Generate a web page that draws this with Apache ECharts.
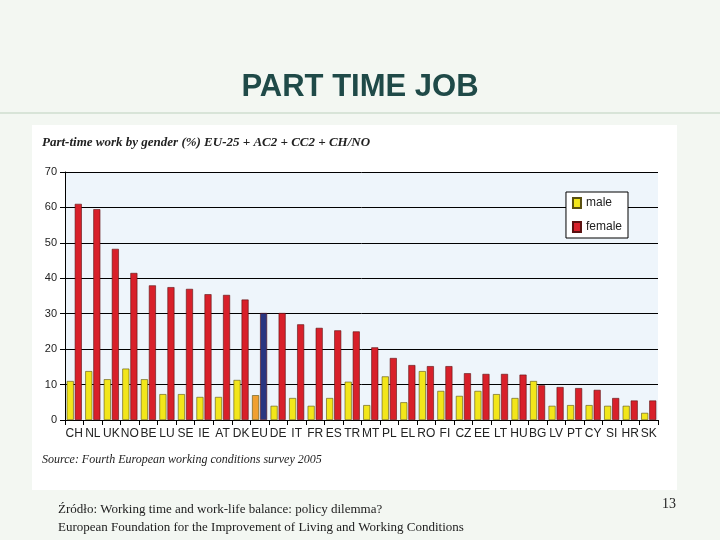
<!DOCTYPE html>
<html>
<head>
<meta charset="utf-8">
<script src="https://cdn.jsdelivr.net/npm/echarts@6/dist/echarts.min.js"></script>
<style>html,body{margin:0;padding:0;background:#fff}#main{width:720px;height:540px}</style>
</head>
<body>
<div id="main"></div>
<script>
var countries = ['CH','NL','UK','NO','BE','LU','SE','IE','AT','DK','EU','DE','IT','FR','ES','TR','MT','PL','EL','RO','FI','CZ','EE','LT','HU','BG','LV','PT','CY','SI','HR','SK'];
var male = [11,13.8,11.5,14.5,11.5,7.3,7.3,6.5,6.5,11.3,7,4,6.2,4,6.2,10.8,4.2,12.3,5,13.8,8.2,6.8,8.2,7.3,6.2,11,4,4.2,4.2,4,4,2];
var female = [61,59.5,48.3,41.5,38,37.5,37,35.5,35.3,34,30.2,30.2,27,26,25.3,25,20.5,17.5,15.5,15.2,15.2,13.2,13,13,12.8,9.8,9.3,9,8.5,6.2,5.5,5.5];

var euIndex = countries.indexOf('EU');
var maleData = male.map(function (v, i) {
    return i === euIndex ? {value: v, itemStyle: {color: '#f0a030'}} : v;
});
var femaleData = female.map(function (v, i) {
    return i === euIndex ? {value: v, itemStyle: {color: '#2a3580'}} : v;
});

var chart = echarts.init(document.getElementById('main'));
var option = {
    backgroundColor: '#f3f7f2',
    animation: false,
    graphic: [
        {type: 'rect', shape: {x: 0, y: 112, width: 720, height: 2}, style: {fill: '#d8e4d8'}},
        {type: 'text', left: 'center', top: 72, style: {text: 'PART TIME JOB', font: 'bold 31px Arial, Liberation Sans', fill: '#1f4a48'}},
        {type: 'rect', shape: {x: 32, y: 125, width: 645, height: 365}, style: {fill: '#ffffff'}, z: -1},
        {type: 'rect', shape: {x: 65, y: 172, width: 593, height: 248}, style: {fill: '#eef5fb'}, z: -1},
        {type: 'text', left: 42, top: 136, style: {text: 'Part-time work by gender (%) EU-25 + AC2 + CC2 + CH/NO', font: 'italic bold 13px Liberation Serif', fill: '#222'}},
        {type: 'text', left: 42, top: 454, style: {text: 'Source: Fourth European working conditions survey 2005', font: 'italic 12px Liberation Serif', fill: '#222'}},
        {type: 'text', left: 58, top: 501, style: {text: 'Źródło: Working time and work-life balance: policy dilemma?\nEuropean Foundation for the Improvement of Living and Working Conditions', font: '13px Liberation Serif', fill: '#222', lineHeight: 18}},
        {type: 'text', left: 662, top: 497, style: {text: '13', font: '14px Liberation Serif', fill: '#222'}}
    ],
    legend: {
        orient: 'vertical',
        right: 92, top: 192,
        icon: 'rect',
        itemWidth: 8, itemHeight: 10, itemGap: 12,
        backgroundColor: '#fff', borderColor: '#000', borderWidth: 1, padding: [5, 6],
        textStyle: {fontSize: 12, color: '#222', fontFamily: 'Liberation Sans'},
        data: ['male', 'female']
    },
    grid: {left: 65, right: 62, top: 172, bottom: 120},
    xAxis: {
        type: 'category',
        data: countries,
        axisLine: {lineStyle: {color: '#000'}},
        axisTick: {show: true, lineStyle: {color: '#000'}},
        axisLabel: {interval: 0, color: '#222', fontSize: 12, fontFamily: 'Liberation Sans Narrow, Liberation Sans', margin: 8}
    },
    yAxis: {
        type: 'value',
        min: 0, max: 70, interval: 10,
        axisLine: {show: true, lineStyle: {color: '#000'}},
        axisTick: {show: true, lineStyle: {color: '#000'}},
        axisLabel: {color: '#222', fontSize: 11, fontFamily: 'Liberation Sans'},
        splitLine: {lineStyle: {color: '#000', width: 1}}
    },
    series: [
        {name: 'male', type: 'bar', data: maleData, barWidth: 7, barGap: '15%',
            itemStyle: {color: '#f2e61a', borderColor: '#5a5010', borderWidth: 0.6}},
        {name: 'female', type: 'bar', data: femaleData, barWidth: 7,
            itemStyle: {color: '#d8202a', borderColor: '#5a1010', borderWidth: 0.6}}
    ]
};
chart.setOption(option);
</script>
</body>
</html>
